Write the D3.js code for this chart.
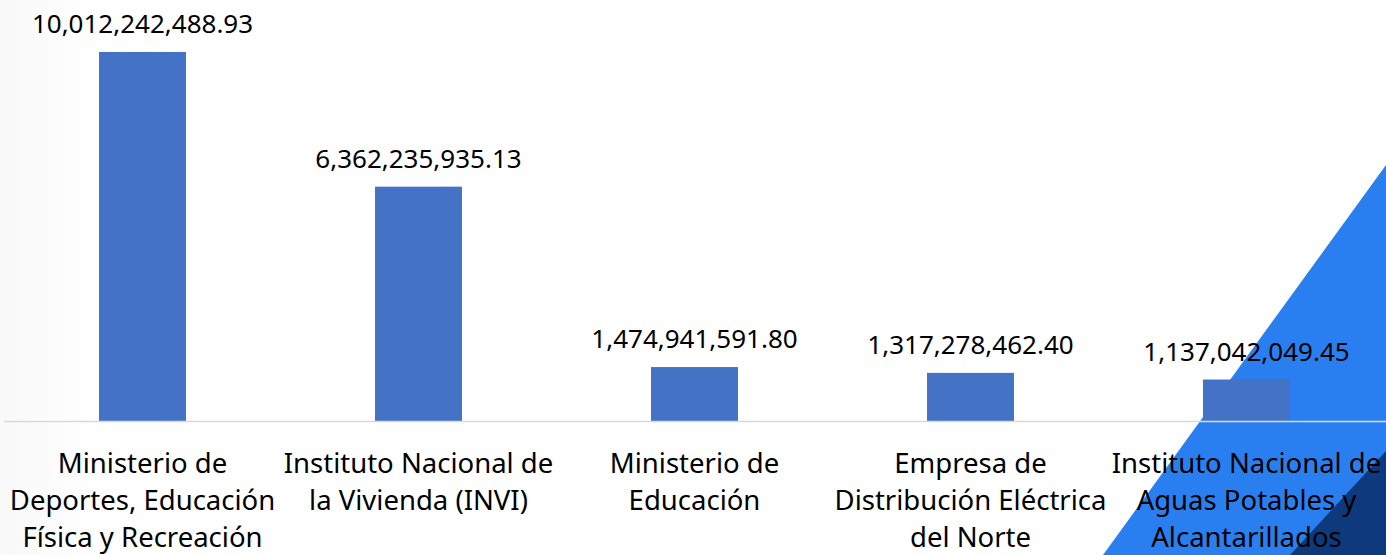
<!DOCTYPE html>
<html>
<head>
<meta charset="utf-8">
<script src="https://cdn.jsdelivr.net/npm/d3@7"></script>
<style>
  html, body { margin: 0; padding: 0; background: #fff; overflow: hidden; }
  svg { display: block; }
  text { font-family: "Noto Sans", "Open Sans", sans-serif; fill: #000; }
</style>
</head>
<body>
<svg id="chart"></svg>
<script>
// chart data
const categories = [
  "Ministerio de Deportes, Educación Física y Recreación",
  "Instituto Nacional de la Vivienda (INVI)",
  "Ministerio de Educación",
  "Empresa de Distribución Eléctrica del Norte",
  "Instituto Nacional de Aguas Potables y Alcantarillados"
];
const categoryLines = [
  ["Ministerio de", "Deportes, Educación", "Física y Recreación"],
  ["Instituto Nacional de", "la Vivienda (INVI)"],
  ["Ministerio de", "Educación"],
  ["Empresa de", "Distribución Eléctrica", "del Norte"],
  ["Instituto Nacional de", "Aguas Potables y", "Alcantarillados"]
];
const values = [10012242488.93, 6362235935.13, 1474941591.80, 1317278462.40, 1137042049.45];

const width = 1386, height = 555;
const baseY = 421.5;

const svg = d3.select("#chart").attr("width", width).attr("height", height);

// background: faint grey on the left, blue corner shapes on the right
const defs = svg.append("defs");
const grad = defs.append("linearGradient").attr("id", "leftFade").attr("x1", 0).attr("x2", 1);
grad.append("stop").attr("offset", "0%").attr("stop-color", "#f9f9f9");
grad.append("stop").attr("offset", "100%").attr("stop-color", "#ffffff");
svg.append("rect").attr("width", 110).attr("height", height).attr("fill", "url(#leftFade)");

svg.append("polygon")
  .attr("points", "1386,165 1103,555 1386,555")
  .attr("fill", "#2a7ff0");
svg.append("polygon")
  .attr("points", "1386,451 1290,555 1386,555")
  .attr("fill", "#0e3a7d");

const x = d3.scaleBand()
  .domain(categories)
  .range([4.5, 1384.5])
  .paddingInner(0.685)
  .paddingOuter(0.3425);

const y = d3.scaleLinear()
  .domain([0, 10e9])
  .range([baseY, baseY - 369.1]);

// bars
svg.append("g")
  .selectAll("rect")
  .data(values)
  .join("rect")
  .attr("x", (d, i) => x(categories[i]))
  .attr("y", d => y(d))
  .attr("width", x.bandwidth())
  .attr("height", d => baseY - y(d))
  .attr("fill", "#4472c4");

// baseline
svg.append("line")
  .attr("x1", 4).attr("x2", width)
  .attr("y1", baseY).attr("y2", baseY)
  .attr("stroke", "#d9d9d9")
  .attr("stroke-width", 1.5);

// value labels
const fmt = d3.format(",.2f");
svg.append("g")
  .selectAll("text")
  .data(values)
  .join("text")
  .attr("x", (d, i) => x(categories[i]) + x.bandwidth() / 2)
  .attr("y", d => y(d) - 19)
  .attr("text-anchor", "middle")
  .style("font-size", "26px")
  .text(d => fmt(d));

// category labels
const catG = svg.append("g")
  .selectAll("text")
  .data(categories)
  .join("text")
  .attr("x", d => x(d) + x.bandwidth() / 2)
  .attr("y", 473)
  .attr("text-anchor", "middle")
  .style("font-size", "27.5px");

catG.selectAll("tspan")
  .data((d, i) => categoryLines[i])
  .join("tspan")
  .attr("x", function () { return d3.select(this.parentNode).attr("x"); })
  .attr("dy", (d, j) => j === 0 ? 0 : 37)
  .text(d => d);
</script>
</body>
</html>
